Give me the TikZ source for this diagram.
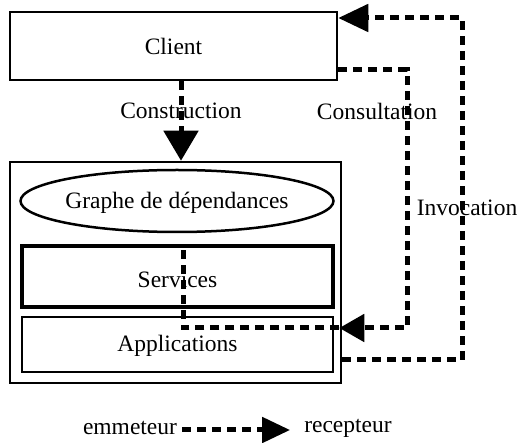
\documentclass[tikz,border=0pt]{standalone}
\usepackage{fontspec}
\setmainfont{Liberation Serif}
\usetikzlibrary{arrows.meta,shapes.geometric}
\begin{document}
\begin{tikzpicture}[x=1pt,y=-1pt,
  every node/.style={font=\fontsize{23.5}{28}\selectfont},
  boxnode/.style={draw,line width=2.5pt,inner sep=0pt},
  dashline/.style={line width=5pt,dash pattern=on 9pt off 6pt,line join=miter},
  lbl/.style={inner sep=1pt}]
\useasboundingbox (0,0) rectangle (520,443);
\fill[white] (0,0) rectangle (520,443);
% boxes
\node[boxnode,minimum width=327pt,minimum height=68pt] (client) at (173.5,46) {Client};
\node[boxnode,minimum width=331pt,minimum height=221pt] (outer) at (175.5,272.5) {};
\node[draw,ellipse,line width=2.5pt,inner sep=0pt,minimum width=313pt,minimum height=62pt] (graph) at (177,201) {};
\node at (177,203) {Graphe de dépendances};
\node[boxnode,line width=3.5pt,minimum width=311pt,minimum height=61pt] (services) at (177.5,276.5) {};
\node at (177.5,280) {Services};
\node[boxnode,minimum width=311pt,minimum height=55pt] (apps) at (177.5,344.5) {};
\node at (177.5,346) {Applications};
% helper coordinates
\coordinate (cx) at (181,0);
\coordinate (gx) at (183,0);
\coordinate (yc) at (0,70);
\coordinate (yb) at (0,328);
\coordinate (yi) at (0,360);
\coordinate (yt) at (0,18);
% Construction
\draw[dashline,-{Triangle[length=30pt,width=34pt]}] (client.south -| cx) -- (outer.north -| cx);
% Consultation
\draw[dashline,-{Triangle[length=25pt,width=27pt]}] (client.east |- yc) -- (407,70) -- (407,328) -- ([xshift=-3pt]outer.east |- yb);
\draw[dashline] ([xshift=-3pt]outer.east |- yb) -- (183,328) -- (services.north -| gx);
% Invocation
\draw[dashline,-{Triangle[length=30pt,width=27pt]}] (outer.east |- yi) -- (462,360) -- (462,18) -- (client.east |- yt);
% labels
\node[lbl] (lcons) at (181,111) {Construction};
\node[lbl] (lcon) at (377,111) {Consultation};
\node[lbl] (linv) at (467,208) {Invocation};
% legend
\node[inner sep=0pt] (em) at (130,428) {emmeteur};
\node[inner sep=0pt] (rec) at (348,428) {recepteur};
\draw[dashline,-{Triangle[length=28pt,width=25pt]}] ([xshift=5pt]em.east |- 0,430) -- ([xshift=-14pt]rec.west |- 0,430);
\end{tikzpicture}
\end{document}
